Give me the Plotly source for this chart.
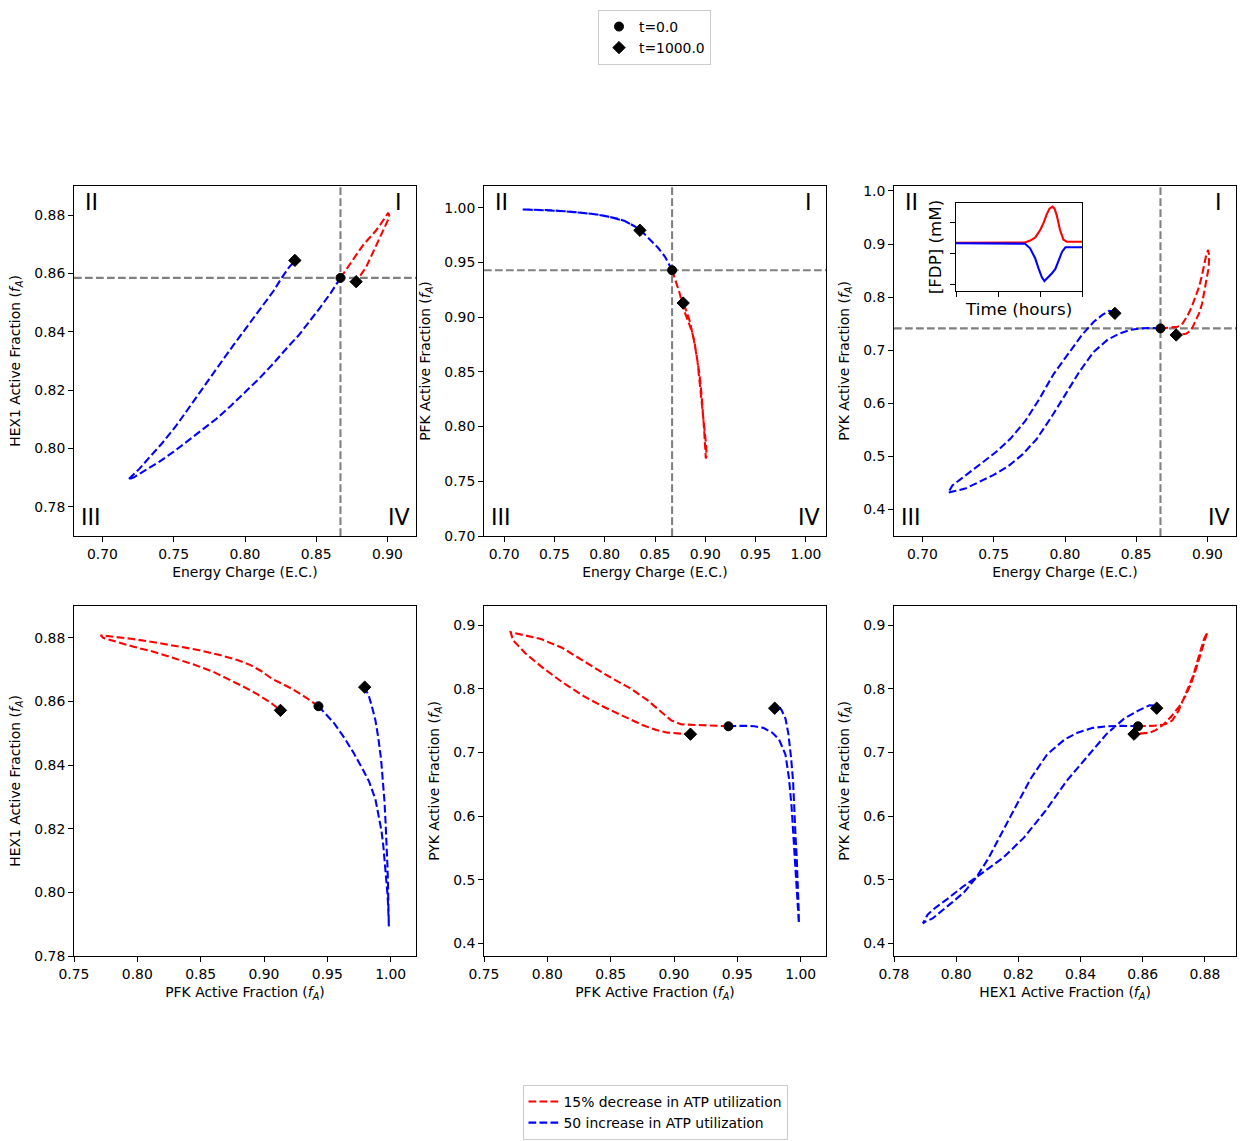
import plotly.graph_objects as go

# ---------------- data ----------------
# 15% decrease in ATP utilization (red), time ordered from t=0 to t=1000
red_ec = [0.867, 0.8705, 0.8745, 0.879, 0.8825, 0.886, 0.889, 0.8915, 0.8942, 0.8962,
          0.8978, 0.899, 0.9005, 0.9012, 0.9008, 0.8993, 0.8978, 0.8962, 0.8945, 0.8922,
          0.8895, 0.8873, 0.885, 0.8815, 0.878]
red_hex = [0.8585, 0.8610, 0.8640, 0.8672, 0.8695, 0.8715, 0.8730, 0.8745, 0.8762, 0.8775,
           0.8787, 0.8797, 0.8808, 0.8800, 0.8788, 0.8772, 0.8757, 0.8737, 0.8717, 0.8693,
           0.8665, 0.8642, 0.8622, 0.8597, 0.8572]
red_pfk = [0.943, 0.934, 0.922, 0.906, 0.898, 0.889, 0.879, 0.866, 0.848, 0.830,
           0.812, 0.795, 0.771, 0.773, 0.783, 0.797, 0.812, 0.829, 0.844, 0.860,
           0.875, 0.886, 0.895, 0.905, 0.913]
red_pyk = [0.741, 0.7415, 0.742, 0.744, 0.750, 0.765, 0.782, 0.800, 0.820, 0.842,
           0.864, 0.878, 0.889, 0.876, 0.855, 0.832, 0.810, 0.788, 0.772, 0.757,
           0.743, 0.735, 0.731, 0.7295, 0.7286]

# 50 increase in ATP utilization (blue)
blue_ec = [0.867, 0.860, 0.853, 0.846, 0.838, 0.830, 0.820, 0.810, 0.800, 0.790,
           0.780, 0.770, 0.760, 0.750, 0.740, 0.730, 0.722, 0.718, 0.721, 0.726,
           0.733, 0.742, 0.752, 0.762, 0.772, 0.782, 0.792, 0.802, 0.812, 0.820,
           0.826, 0.831, 0.834, 0.835]
blue_hex = [0.8585, 0.8532, 0.8485, 0.8440, 0.8390, 0.8348, 0.8292, 0.8240, 0.8192, 0.8146,
            0.8102, 0.8064, 0.8027, 0.7989, 0.7955, 0.7924, 0.7901, 0.7893, 0.7908, 0.7931,
            0.7970, 0.8019, 0.8080, 0.8150, 0.8218, 0.8287, 0.8355, 0.8420, 0.8484, 0.8540,
            0.8587, 0.8622, 0.8637, 0.8645]
blue_pfk = [0.943, 0.9553, 0.9635, 0.9705, 0.9775, 0.9830, 0.9880, 0.9908, 0.9928, 0.9942,
            0.9953, 0.9962, 0.9970, 0.9976, 0.9980, 0.9983, 0.9985, 0.9986, 0.9985, 0.9984,
            0.9982, 0.9979, 0.9975, 0.9969, 0.9960, 0.9951, 0.9940, 0.9924, 0.9903, 0.9880,
            0.9850, 0.9824, 0.9800, 0.9795]
blue_pyk = [0.741, 0.7418, 0.741, 0.7385, 0.731, 0.720, 0.6965, 0.659, 0.6153, 0.572,
            0.532, 0.503, 0.481, 0.465, 0.452, 0.439, 0.434, 0.4313, 0.445, 0.455,
            0.469, 0.488, 0.509, 0.534, 0.566, 0.608, 0.655, 0.692, 0.729, 0.753,
            0.766, 0.774, 0.7735, 0.7694]

# inset: [FDP] vs time (arbitrary units, no tick labels in the reference)
inset_time_red = [0.0, 0.5, 1.0, 1.4, 1.64, 1.76, 1.88, 2.0, 2.08, 2.15, 2.22, 2.29,
                  2.34, 2.39, 2.47, 2.55, 2.63, 2.8, 3.0]
inset_fdp_red = [0.01671, 0.01671, 0.01671, 0.01671, 0.01675, 0.01705, 0.01752, 0.01876,
                 0.0199, 0.0212, 0.0222, 0.02252, 0.0222, 0.0212, 0.0188, 0.0172, 0.01687,
                 0.01687, 0.01687]
inset_time_blue = [0.0, 0.5, 1.0, 1.4, 1.64, 1.76, 1.88, 1.96, 2.04, 2.10, 2.17, 2.28,
                   2.36, 2.44, 2.52, 2.60, 2.8, 3.0]
inset_fdp_blue = [0.01661, 0.01661, 0.01661, 0.01661, 0.01655, 0.0158, 0.0142, 0.01258,
                  0.01113, 0.01053, 0.01097, 0.01177, 0.01247, 0.01392, 0.01526, 0.01597,
                  0.01597, 0.01597]
inset_yticks = [0.010, 0.015, 0.020]
inset_xticks = [0, 1, 2, 3]

quadrant_labels = ["II", "I", "III", "IV"]

red_name = "15% decrease in ATP utilization"
blue_name = "50 increase in ATP utilization"

# ---------------- layout helpers ----------------
W, H = 1246, 1141
FONT = "DejaVu Sans"


def fx(px):
    return px / W


def fy(py):
    return 1 - py / H


red = dict(ec=red_ec, hex=red_hex, pfk=red_pfk, pyk=red_pyk)
blue = dict(ec=blue_ec, hex=blue_hex, pfk=blue_pfk, pyk=blue_pyk)

sub_A = " (<i>f</i><sub><i>A</i></sub>)"
labels = dict(ec="Energy Charge (E.C.)",
              hex="HEX1 Active Fraction" + sub_A,
              pfk="PFK Active Fraction" + sub_A,
              pyk="PYK Active Fraction" + sub_A)

panels = [
    dict(xk="ec", yk="hex", xr=[0.68, 0.92], yr=[0.77, 0.89], xd=0.05, yd=0.02, xf=".2f", yf=".2f", quad=True),
    dict(xk="ec", yk="pfk", xr=[0.68, 1.02], yr=[0.70, 1.02], xd=0.05, yd=0.05, xf=".2f", yf=".2f", quad=True),
    dict(xk="ec", yk="pyk", xr=[0.68, 0.92], yr=[0.3497, 1.0094], xd=0.05, yd=0.1, xf=".2f", yf=".1f", quad=True),
    dict(xk="pfk", yk="hex", xr=[0.75, 1.02], yr=[0.78, 0.89], xd=0.05, yd=0.02, xf=".2f", yf=".2f", quad=False),
    dict(xk="pfk", yk="pyk", xr=[0.75, 1.02], yr=[0.38, 0.93], xd=0.05, yd=0.1, xf=".2f", yf=".1f", quad=False),
    dict(xk="hex", yk="pyk", xr=[0.78, 0.89], yr=[0.38, 0.93], xd=0.02, yd=0.1, xf=".2f", yf=".1f", quad=False),
]

col_px = [(74, 416), (484, 826), (894, 1236)]
row_px = [(186, 536), (606, 956)]

dash = "7.7px,3.3px"
lw = 2.08

fig = go.Figure()
layout = dict()
annotations = []
shapes = []

axis_common = dict(showline=True, linecolor="black", linewidth=1.1, mirror=True,
                   ticks="outside", ticklen=4.9, tickwidth=1.1, tickcolor="black",
                   showgrid=False, zeroline=False, automargin=False,
                   tickfont=dict(family=FONT, size=13.9, color="black"))

for i, p in enumerate(panels):
    n = i + 1
    xa = "x" if n == 1 else f"x{n}"
    ya = "y" if n == 1 else f"y{n}"
    r, c = divmod(i, 3)
    x0p, x1p = col_px[c]
    y0p, y1p = row_px[r]
    layout["xaxis" if n == 1 else f"xaxis{n}"] = dict(
        axis_common, domain=[fx(x0p), fx(x1p)], range=p["xr"], anchor=ya,
        tick0=0, dtick=p["xd"], tickformat=p["xf"],
        title=dict(text=labels[p["xk"]], font=dict(family=FONT, size=13.9, color="black"), standoff=6))
    layout["yaxis" if n == 1 else f"yaxis{n}"] = dict(
        axis_common, domain=[fy(y1p), fy(y0p)], range=p["yr"], anchor=xa,
        tick0=0, dtick=p["yd"], tickformat=p["yf"],
        title=dict(text=labels[p["yk"]], font=dict(family=FONT, size=13.9, color="black"), standoff=10))

    if p["quad"]:
        # reference lines through the initial state
        shapes.append(dict(type="line", xref=xa, yref=f"{ya} domain", x0=red[p["xk"]][0], x1=red[p["xk"]][0],
                           y0=0, y1=1, line=dict(color="grey", width=lw, dash=dash), layer="below"))
        shapes.append(dict(type="line", xref=f"{xa} domain", yref=ya, x0=0, x1=1,
                           y0=red[p["yk"]][0], y1=red[p["yk"]][0],
                           line=dict(color="grey", width=lw, dash=dash), layer="below"))
        for txt, (qx, qy) in zip(quadrant_labels, [(0.05, 0.955), (0.95, 0.955), (0.05, 0.055), (0.95, 0.055)]):
            annotations.append(dict(text=txt, x=qx, y=qy, xref=f"{xa} domain", yref=f"{ya} domain",
                                    xanchor="center", yanchor="middle", showarrow=False,
                                    font=dict(family=FONT, size=22.2, color="black")))

    fig.add_trace(go.Scatter(x=red[p["xk"]], y=red[p["yk"]], mode="lines", xaxis=xa, yaxis=ya,
                             line=dict(color="red", width=lw, dash=dash), name=red_name,
                             legend="legend2", showlegend=(n == 1)))
    fig.add_trace(go.Scatter(x=blue[p["xk"]], y=blue[p["yk"]], mode="lines", xaxis=xa, yaxis=ya,
                             line=dict(color="blue", width=lw, dash=dash), name=blue_name,
                             legend="legend2", showlegend=(n == 1)))
    fig.add_trace(go.Scatter(x=[red[p["xk"]][0]], y=[red[p["yk"]][0]], mode="markers", xaxis=xa, yaxis=ya,
                             marker=dict(symbol="circle", size=9, color="black", line=dict(color="black", width=1)),
                             name="t=0.0", legend="legend", showlegend=(n == 1)))
    fig.add_trace(go.Scatter(x=[red[p["xk"]][-1], blue[p["xk"]][-1]], y=[red[p["yk"]][-1], blue[p["yk"]][-1]],
                             mode="markers", xaxis=xa, yaxis=ya,
                             marker=dict(symbol="diamond", size=9.5, color="black", line=dict(color="black", width=1)),
                             name="t=1000.0", legend="legend", showlegend=(n == 1)))

# inset in panel 3
layout["xaxis7"] = dict(axis_common, domain=[fx(956), fx(1082.3)], range=[0, 3], anchor="y7",
                        tickvals=inset_xticks, showticklabels=False,
                        title=dict(text="Time (hours)", font=dict(family=FONT, size=16.7, color="black"), standoff=7))
layout["yaxis7"] = dict(axis_common, domain=[fy(290.7), fy(203.3)], range=[0.00897, 0.02306], anchor="x7",
                        tickvals=inset_yticks, showticklabels=False,
                        title=dict(text="[FDP] (mM)", font=dict(family=FONT, size=16.7, color="black"), standoff=4))
fig.add_trace(go.Scatter(x=inset_time_red, y=inset_fdp_red, mode="lines", xaxis="x7", yaxis="y7",
                         line=dict(color="red", width=lw), showlegend=False))
fig.add_trace(go.Scatter(x=inset_time_blue, y=inset_fdp_blue, mode="lines", xaxis="x7", yaxis="y7",
                         line=dict(color="blue", width=lw), showlegend=False))

legend_common = dict(bgcolor="white", bordercolor="#cccccc", borderwidth=1,
                     font=dict(family=FONT, size=13.9, color="black"), xanchor="center", yanchor="top",
                     orientation="v")

fig.update_layout(
    width=W, height=H,
    margin=dict(l=0, r=0, t=0, b=0),
    paper_bgcolor="white", plot_bgcolor="white",
    font=dict(family=FONT, size=13.9, color="black"),
    legend=dict(legend_common, x=fx(654.5), y=fy(10)),
    legend2=dict(legend_common, x=fx(655), y=fy(1085)),
    annotations=annotations, shapes=shapes,
    **layout,
)

fig.write_html("out.html")
